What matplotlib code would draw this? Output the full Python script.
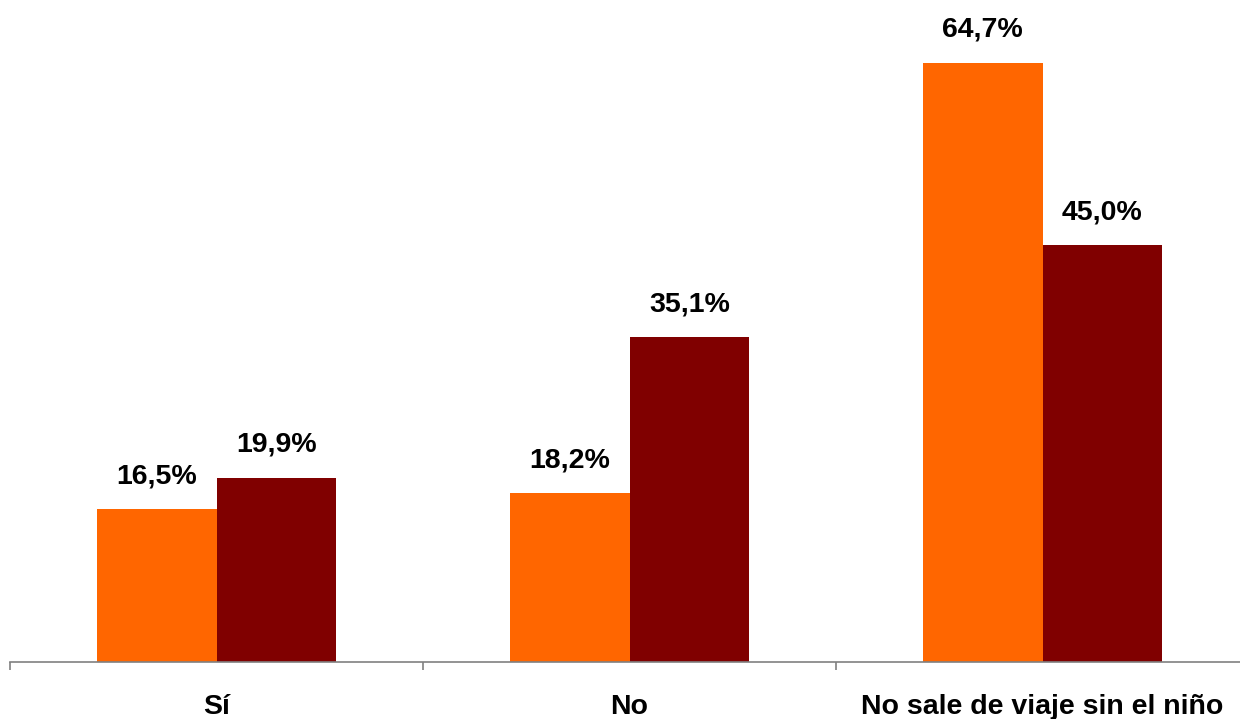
import numpy as np
from matplotlib import pyplot as plt

categorias = ['Sí', 'No', 'No sale de viaje sin el niño']
serie_1 = [16.5, 18.2, 64.7]
serie_2 = [19.9, 35.1, 45.0]

def etiqueta(v):
	return ('%.1f%%' % v).replace('.', ',')

def main():
	plt.rcParams['font.family'] = ['Liberation Sans', 'DejaVu Sans']
	fig = plt.figure(figsize=(12.4, 7.19), dpi=100)
	ax = fig.add_axes([10/1240, 57/719, 1239/1240, 662/719])
	x = np.arange(len(categorias))
	w = 0.29
	b1 = ax.bar(x - w/2, serie_1, w, color='#FF6600')
	b2 = ax.bar(x + w/2, serie_2, w, color='#800000')
	for barras, vals in ((b1, serie_1), (b2, serie_2)):
		for b, v in zip(barras, vals):
			ax.annotate(etiqueta(v), (b.get_x() + b.get_width()/2, v),
						xytext=(0, 18.7), textcoords='offset points',
						ha='center', va='baseline', fontsize=20.5, fontweight='bold')
	for xi, c in zip(x, categorias):
		ax.annotate(c, (xi, 0), xytext=(0, -37.4), textcoords='offset points',
					ha='center', va='baseline', fontsize=20.5, fontweight='bold',
					annotation_clip=False)
	ax.set_xlim(-0.5, len(categorias) - 0.5)
	ax.set_ylim(0, 71.5)
	for s in ('top', 'right', 'left'):
		ax.spines[s].set_visible(False)
	ax.spines['bottom'].set_color('#808080')
	ax.spines['bottom'].set_linewidth(1.2)
	ax.set_yticks([])
	ax.set_xticks(np.arange(len(categorias) + 1) - 0.5)
	ax.set_xticklabels([])
	ax.tick_params(axis='x', length=6, color='#808080', width=1.2)
	fig.savefig('out.png', dpi=100)
	return 0

if __name__ == '__main__':
	main()
